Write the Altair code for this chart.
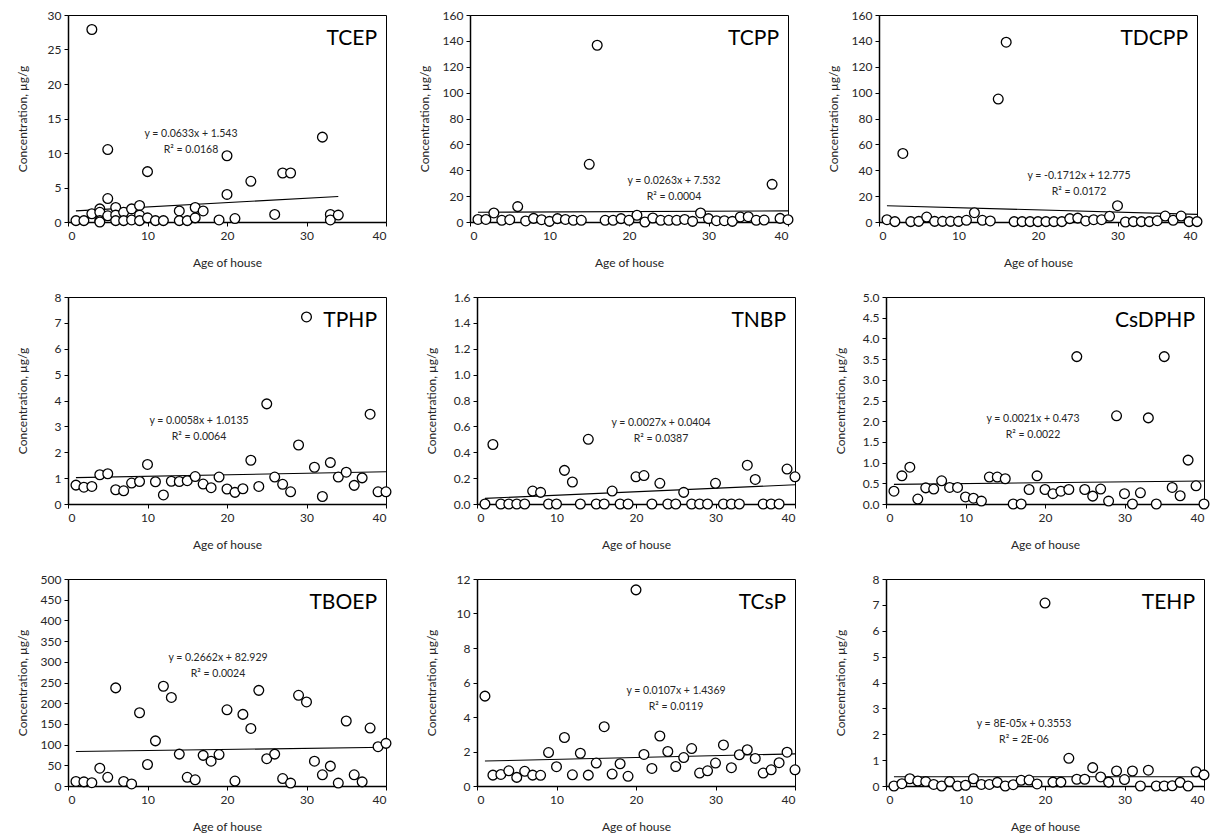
import altair as alt
import pandas as pd

FONT = "Lato"
W, H = 318, 207

# ---------------- data ----------------
names = ["TCEP", "TCPP", "TDCPP", "TPHP", "TNBP", "CsDPHP", "TBOEP", "TCsP", "TEHP"]

ages_40 = [1, 2, 3, 4, 5, 6, 7, 8, 9, 10, 11, 12, 13, 14, 15, 16, 17, 18, 19, 20,
           21, 22, 23, 24, 25, 26, 27, 28, 29, 30, 31, 32, 33, 34, 35, 36, 37, 38, 39, 40]

tcep_age = [1, 2, 3, 3, 4, 4, 4, 4, 5, 5, 5, 6, 6, 6, 7, 7, 8, 8, 9, 9, 9, 10, 10, 11, 12,
            14, 14, 15, 16, 16, 17, 19, 20, 20, 21, 23, 26, 27, 28, 32, 33, 33, 34]
tcep_conc = [0.2, 0.2, 27.9, 1.2, 1.9, 1.4, 0.2, 0.0, 10.5, 3.4, 0.9, 2.1, 1.0, 0.2, 1.4, 0.2,
             1.9, 0.3, 2.4, 1.0, 0.2, 7.3, 0.6, 0.2, 0.2, 1.6, 0.2, 0.2, 2.1, 0.6, 1.6, 0.3,
             9.6, 4.0, 0.5, 5.9, 1.1, 7.1, 7.1, 12.3, 1.1, 0.3, 1.0]

tcpp_conc = [2, 2, 7, 1.3, 1.8, 11.9, 0.8, 2.8, 1.8, 0.5,
             2.6, 2, 1.3, 1.3, 44.6, 136.6, 1.3, 1.3, 2.6, 1.3,
             5.2, 0, 3.1, 1.3, 1.3, 1.3, 2, 0.5, 7, 2.6,
             1, 1, 0.5, 3.9, 4.1, 1.3, 1.5, 29.1, 2.8, 1.8]

tdcpp_conc = [1.8, 0.3, 53, 0.3, 0.5, 3.8, 0.5, 0.5, 0.5, 0.5,
              1.3, 7.2, 1.3, 0.8, 95, 139, 0.3, 0.3, 0.3, 0.3,
              0.3, 0.3, 0.3, 2.6, 3, 0.8, 1.8, 1.8, 4.4, 12.6,
              0, 0.3, 0.3, 0.3, 1, 4.6, 1.3, 4.6, 0.3, 0.3]

tphp_conc = [0.73, 0.65, 0.68, 1.13, 1.17, 0.55, 0.51, 0.81, 0.87, 1.53,
             0.86, 0.35, 0.88, 0.87, 0.90, 1.06, 0.77, 0.63, 1.04, 0.58,
             0.45, 0.59, 1.69, 0.68, 3.87, 1.04, 0.76, 0.47, 2.28, 7.23,
             1.42, 0.29, 1.60, 1.04, 1.23, 0.72, 1.01, 3.47, 0.47, 0.47]

tnbp_conc = [0, 0.46, 0, 0, 0, 0, 0.10, 0.09, 0, 0,
             0.26, 0.17, 0, 0.50, 0, 0, 0.10, 0, 0, 0.21,
             0.22, 0, 0.16, 0, 0, 0.09, 0, 0, 0, 0.16,
             0, 0, 0, 0.30, 0.19, 0, 0, 0, 0.27, 0.21]

csdphp_conc = [0.31, 0.68, 0.89, 0.12, 0.39, 0.36, 0.56, 0.40, 0.40, 0.17,
               0.14, 0.07, 0.65, 0.65, 0.61, 0, 0, 0.35, 0.68, 0.35,
               0.25, 0.31, 0.35, 3.56, 0.35, 0.19, 0.36, 0.07, 2.13, 0.25,
               0, 0.27, 2.08, 0, 3.56, 0.40, 0.20, 1.06, 0.44, 0]

tboep_conc = [11, 10, 8, 43, 21, 237, 11, 5, 177, 52,
              109, 241, 214, 77, 21, 15, 74, 60, 76, 184,
              12, 173, 139, 231, 66, 77, 18, 7, 219, 203,
              60, 27, 48, 7, 157, 27, 10, 140, 95, 103]

tcsp_conc = [5.21, 0.63, 0.67, 0.88, 0.50, 0.85, 0.63, 0.62, 1.94, 1.12,
             2.81, 0.65, 1.90, 0.63, 1.33, 3.44, 0.69, 1.29, 0.56, 11.37,
             1.83, 1.02, 2.90, 2.00, 1.13, 1.65, 2.17, 0.75, 0.88, 1.33,
             2.38, 1.06, 1.81, 2.10, 1.60, 0.75, 0.94, 1.35, 1.96, 0.94]

tehp_conc = [0, 0.09, 0.28, 0.19, 0.17, 0.06, 0, 0.17, 0, 0.03,
             0.28, 0.06, 0.06, 0.14, 0, 0.05, 0.22, 0.23, 0.08, 7.07,
             0.15, 0.15, 1.07, 0.26, 0.26, 0.71, 0.35, 0.15, 0.58, 0.25,
             0.58, 0, 0.61, 0, 0, 0.01, 0.14, 0, 0.55, 0.43]

ages = [tcep_age] + [ages_40] * 8
concs = [tcep_conc, tcpp_conc, tdcpp_conc, tphp_conc, tnbp_conc,
         csdphp_conc, tboep_conc, tcsp_conc, tehp_conc]

slopes = [0.0633, 0.0263, -0.1712, 0.0058, 0.0027, 0.0021, 0.2662, 0.0107, 0.00008]
intercepts = [1.543, 7.532, 12.775, 1.0135, 0.0404, 0.473, 82.929, 1.4369, 0.3553]
eq_lines = ["y = 0.0633x + 1.543", "y = 0.0263x + 7.532", "y = -0.1712x + 12.775",
            "y = 0.0058x + 1.0135", "y = 0.0027x + 0.0404", "y = 0.0021x + 0.473",
            "y = 0.2662x + 82.929", "y = 0.0107x + 1.4369", "y = 8E-05x + 0.3553"]
r2_lines = ["R² = 0.0168", "R² = 0.0004", "R² = 0.0172", "R² = 0.0064", "R² = 0.0387",
            "R² = 0.0022", "R² = 0.0024", "R² = 0.0119", "R² = 2E-06"]

x_ticks = [0, 10, 20, 30, 40]
y_ticks = [
    [0, 5, 10, 15, 20, 25, 30],
    [0, 20, 40, 60, 80, 100, 120, 140, 160],
    [0, 20, 40, 60, 80, 100, 120, 140, 160],
    [0, 1, 2, 3, 4, 5, 6, 7, 8],
    [0.0, 0.2, 0.4, 0.6, 0.8, 1.0, 1.2, 1.4, 1.6],
    [0.0, 0.5, 1.0, 1.5, 2.0, 2.5, 3.0, 3.5, 4.0, 4.5, 5.0],
    [0, 50, 100, 150, 200, 250, 300, 350, 400, 450, 500],
    [0, 2, 4, 6, 8, 10, 12],
    [0, 1, 2, 3, 4, 5, 6, 7, 8],
]
y_formats = ["d", "d", "d", "d", ".1f", ".1f", "d", "d", "d"]

# equation label positions inside the plot area (pixels: centre x, first-line y)
eq_pos = [(123, 119), (204, 166), (200, 161),
          (131, 124), (184, 126), (147, 122),
          (150, 79), (199, 112), (138, 145)]

TXT = "#262626"


def panel(i):
    df = pd.DataFrame({"age": ages[i], "conc": concs[i]})
    x0, x1 = min(ages[i]), max(ages[i])
    line_df = pd.DataFrame({"age": [x0, x1],
                            "conc": [slopes[i] * x0 + intercepts[i], slopes[i] * x1 + intercepts[i]]})
    ymax = y_ticks[i][-1]
    x_enc = alt.X("age:Q", scale=alt.Scale(domain=[0, 40], nice=False, zero=False),
                  axis=alt.Axis(values=x_ticks, format="d", title="Age of house",
                                titleY=40, titleBaseline="middle", labelOverlap=False,
                                tickCount=len(x_ticks)))
    y_enc = alt.Y("conc:Q", scale=alt.Scale(domain=[0, ymax], nice=False),
                  axis=alt.Axis(values=y_ticks[i], format=y_formats[i],
                                title="Concentration, µg/g", labelOverlap=False,
                                tickCount=len(y_ticks[i]),
                                titleX=-46, titleY=H / 2, titleBaseline="middle"))
    line = alt.Chart(line_df).mark_line(color="black", strokeWidth=1.1).encode(x=x_enc, y=y_enc)
    pts = alt.Chart(df).mark_point(shape="circle", filled=True, fill="white", stroke="black",
                                   strokeWidth=1.3, size=95, opacity=1).encode(x=x_enc, y=y_enc)
    ex, ey = eq_pos[i]
    t1 = alt.Chart(pd.DataFrame({"t": [eq_lines[i]]})).mark_text(
        font=FONT, fontSize=10.5, color=TXT, align="center", baseline="middle"
    ).encode(text="t:N", x=alt.value(ex), y=alt.value(ey))
    t2 = alt.Chart(pd.DataFrame({"t": [r2_lines[i]]})).mark_text(
        font=FONT, fontSize=10.5, color=TXT, align="center", baseline="middle"
    ).encode(text="t:N", x=alt.value(ex), y=alt.value(ey + 16))
    name = alt.Chart(pd.DataFrame({"t": [names[i]]})).mark_text(
        font=FONT, fontSize=21, color="black", align="right", baseline="middle"
    ).encode(text="t:N", x=alt.value(W - 9), y=alt.value(24))
    return alt.layer(line, pts, t1, t2, name).properties(width=W, height=H)


rows = [alt.hconcat(*[panel(r * 3 + c) for c in range(3)], spacing=30) for r in range(3)]
chart = alt.vconcat(*rows, spacing=21).properties(
    padding={"left": 7, "top": 0, "right": 3, "bottom": 3}
).configure_view(
    stroke="black", strokeWidth=1
).configure_axis(
    grid=False, domainColor="black", domainWidth=1.5, tickColor="black", tickSize=4,
    labelFont=FONT, labelFontSize=12, labelColor=TXT, labelPadding=3, labelOverlap=False,
    titleFont=FONT, titleFontSize=12, titleFontWeight="normal", titleColor=TXT
).configure_axisX(labelPadding=4)

chart.save("out.html", embed_options={"renderer": "svg", "actions": False})
